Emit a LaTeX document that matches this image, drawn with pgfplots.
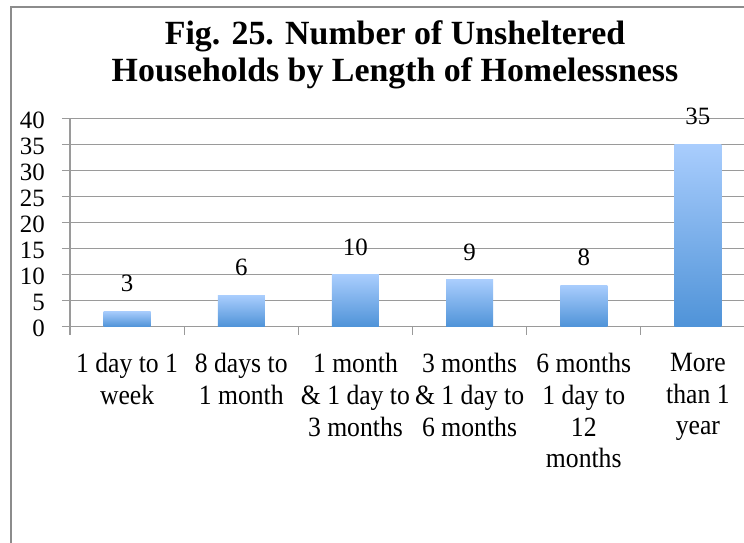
\documentclass[border=0pt]{standalone}
\usepackage{pgfplots}
\pgfplotsset{compat=1.18}
\usepackage{fontspec}
\setmainfont{Liberation Serif}
\newfontfamily\xlab[FakeStretch=0.92]{Liberation Serif}
\definecolor{gridgray}{HTML}{9A9A9A}
\definecolor{framegray}{HTML}{8C8C8C}
\definecolor{bartop}{HTML}{A9CDFD}
\definecolor{barbot}{HTML}{4F93D8}
\pgfplotsset{mybar/.style={ybar, bar width=47bp, draw=none, mark=none, top color=bartop, bottom color=barbot,
    nodes near coords,
    nodes near coords style={font=\fontsize{25}{30}\selectfont, anchor=south, inner sep=0pt, yshift=19bp, black}}}
\begin{document}
\begin{tikzpicture}[x=1bp,y=1bp]
\useasboundingbox (0,0) rectangle (744,543);
\begin{scope}
\clip (0,0) rectangle (744,543);
\fill[white] (0,0) rectangle (744,543);
\draw[framegray, line width=1.3bp] (11,-5) -- (11,536) -- (760,536);
\node[font=\fontsize{34}{39}\selectfont\bfseries, anchor=base] at (395,498) {Fig. 25. Number of Unsheltered};
\node[font=\fontsize{34}{39}\selectfont\bfseries, anchor=base] at (395,461.3) {Households by Length of Homelessness};
\begin{axis}[
  at={(70bp,216.3bp)}, anchor=south west,
  scale only axis, width=685bp, height=208.4bp,
  xmin=-0.5, xmax=5.5, ymin=0, ymax=40,
  ytick={0,5,...,40},
  ymajorgrids, major grid style={gridgray, line width=1.3bp},
  axis lines=left, axis line style={-, gridgray, line width=1.3bp},
  clip=false,
  tick align=outside,
  xtick={0,...,5},
  xticklabels={{1 day to 1\\week},{8 days to\\1 month},{1 month\\\& 1 day to\\3 months},{3 months\\\& 1 day to\\6 months},{6 months\\1 day to\\12\\months},{More\\than 1\\year}},
  minor xtick={-0.5,0.5,...,5.5},
  major x tick style={draw=none},
  tick style={gridgray, line width=1.3bp},
  major tick length=8bp, minor tick length=8bp,
  /pgf/number format/assume math mode=true,
  xticklabel style={font=\xlab\fontsize{28}{32}\selectfont, align=center, anchor=north, inner sep=0pt, yshift=-18bp},
  yticklabel style={font=\fontsize{25}{30}\selectfont, anchor=east, inner sep=0pt, xshift=-17bp, yshift=-2bp},
]
\addplot[mybar] coordinates {(0,3)};
\addplot[mybar] coordinates {(1,6)};
\addplot[mybar] coordinates {(2,10)};
\addplot[mybar] coordinates {(3,9)};
\addplot[mybar] coordinates {(4,8)};
\addplot[mybar] coordinates {(5,35)};
\end{axis}
\end{scope}
\end{tikzpicture}
\end{document}
